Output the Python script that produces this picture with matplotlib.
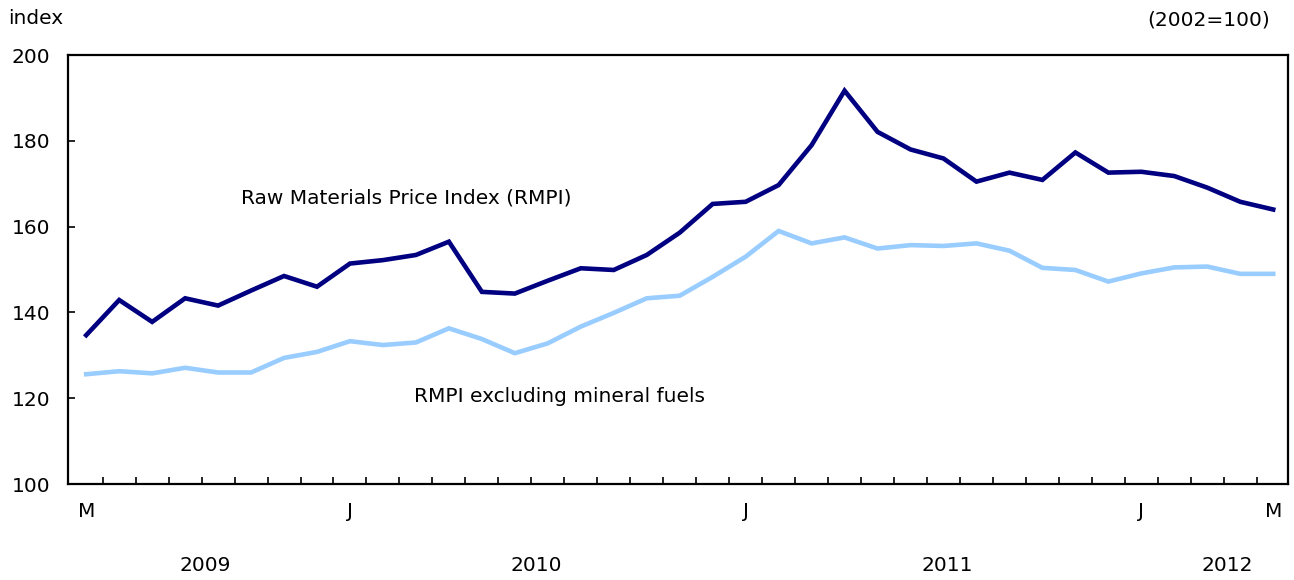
import numpy as np
import matplotlib
matplotlib.use("Agg")
import matplotlib.pyplot as plt
import matplotlib.transforms as mtransforms

# Monthly values, May 2009 to May 2012
rmpi = [134.7, 142.9, 137.8, 143.3, 141.6, 145.1, 148.5, 146.0,
        151.4, 152.2, 153.4, 156.5, 144.8, 144.4, 147.4, 150.3, 149.9, 153.4, 158.6, 165.3,
        165.8, 169.7, 179.0, 191.7, 182.1, 178.0, 175.9, 170.5, 172.6, 170.9, 177.3, 172.6,
        172.8, 171.8, 169.1, 165.8, 164.0]
rmpi_ex_fuels = [125.6, 126.3, 125.8, 127.1, 126.0, 126.0, 129.4, 130.8,
                 133.3, 132.4, 133.0, 136.3, 133.8, 130.5, 132.8, 136.7, 139.9, 143.3, 143.9, 148.3,
                 153.0, 159.0, 156.1, 157.5, 154.9, 155.7, 155.5, 156.1, 154.4, 150.4, 149.9, 147.2,
                 149.1, 150.5, 150.7, 149.0, 149.0]

month_tick_pos = [0, 8, 20, 32, 36]
month_tick_labels = ["M", "J", "J", "J", "M"]
years = ["2009", "2010", "2011", "2012"]
year_pos = [3.6, 13.65, 26.1, 34.6]

plt.rcParams['font.family'] = ['DejaVu Sans']
fs = 14.5

x = np.arange(len(rmpi))

fig = plt.figure(figsize=(12.94, 5.8), dpi=100)
ax = fig.add_axes([0.0526, 0.1655, 0.9428, 0.7395])

ax.plot(x, rmpi, color="#000080", lw=3.3, solid_joinstyle="miter")
ax.plot(x, rmpi_ex_fuels, color="#99ccff", lw=3.3, solid_joinstyle="miter")

ax.set_xlim(-0.55, 36.45)
ax.set_ylim(100, 200)
ax.set_yticks(range(100, 201, 20))

ax.set_xticks(month_tick_pos)
ax.set_xticklabels(month_tick_labels)
ax.set_xticks(np.arange(0.5, 36, 1), minor=True)
ax.tick_params(axis="x", which="major", length=0, pad=13, labelsize=fs)
ax.tick_params(axis="x", which="minor", direction="in", length=5, width=1.2)
ax.tick_params(axis="y", direction="in", length=5, width=1.2, pad=13, labelsize=fs)

for s in ax.spines.values():
    s.set_linewidth(1.6)

trans = mtransforms.blended_transform_factory(ax.transData, ax.transAxes)
for yr, xp in zip(years, year_pos):
    ax.text(xp, -0.19, yr, transform=trans, ha="center", va="center", fontsize=fs)

ax.text(4.7, 166.7, "Raw Materials Price Index (RMPI)", ha="left", va="center", fontsize=fs)
ax.text(9.95, 120.3, "RMPI excluding mineral fuels", ha="left", va="center", fontsize=fs)

fig.text(8 / 1294, 1 - 18 / 580, "index", ha="left", va="center", fontsize=fs)
fig.text(1270 / 1294, 1 - 20 / 580, "(2002=100)", ha="right", va="center", fontsize=fs)

fig.savefig("out.png", dpi=100)
